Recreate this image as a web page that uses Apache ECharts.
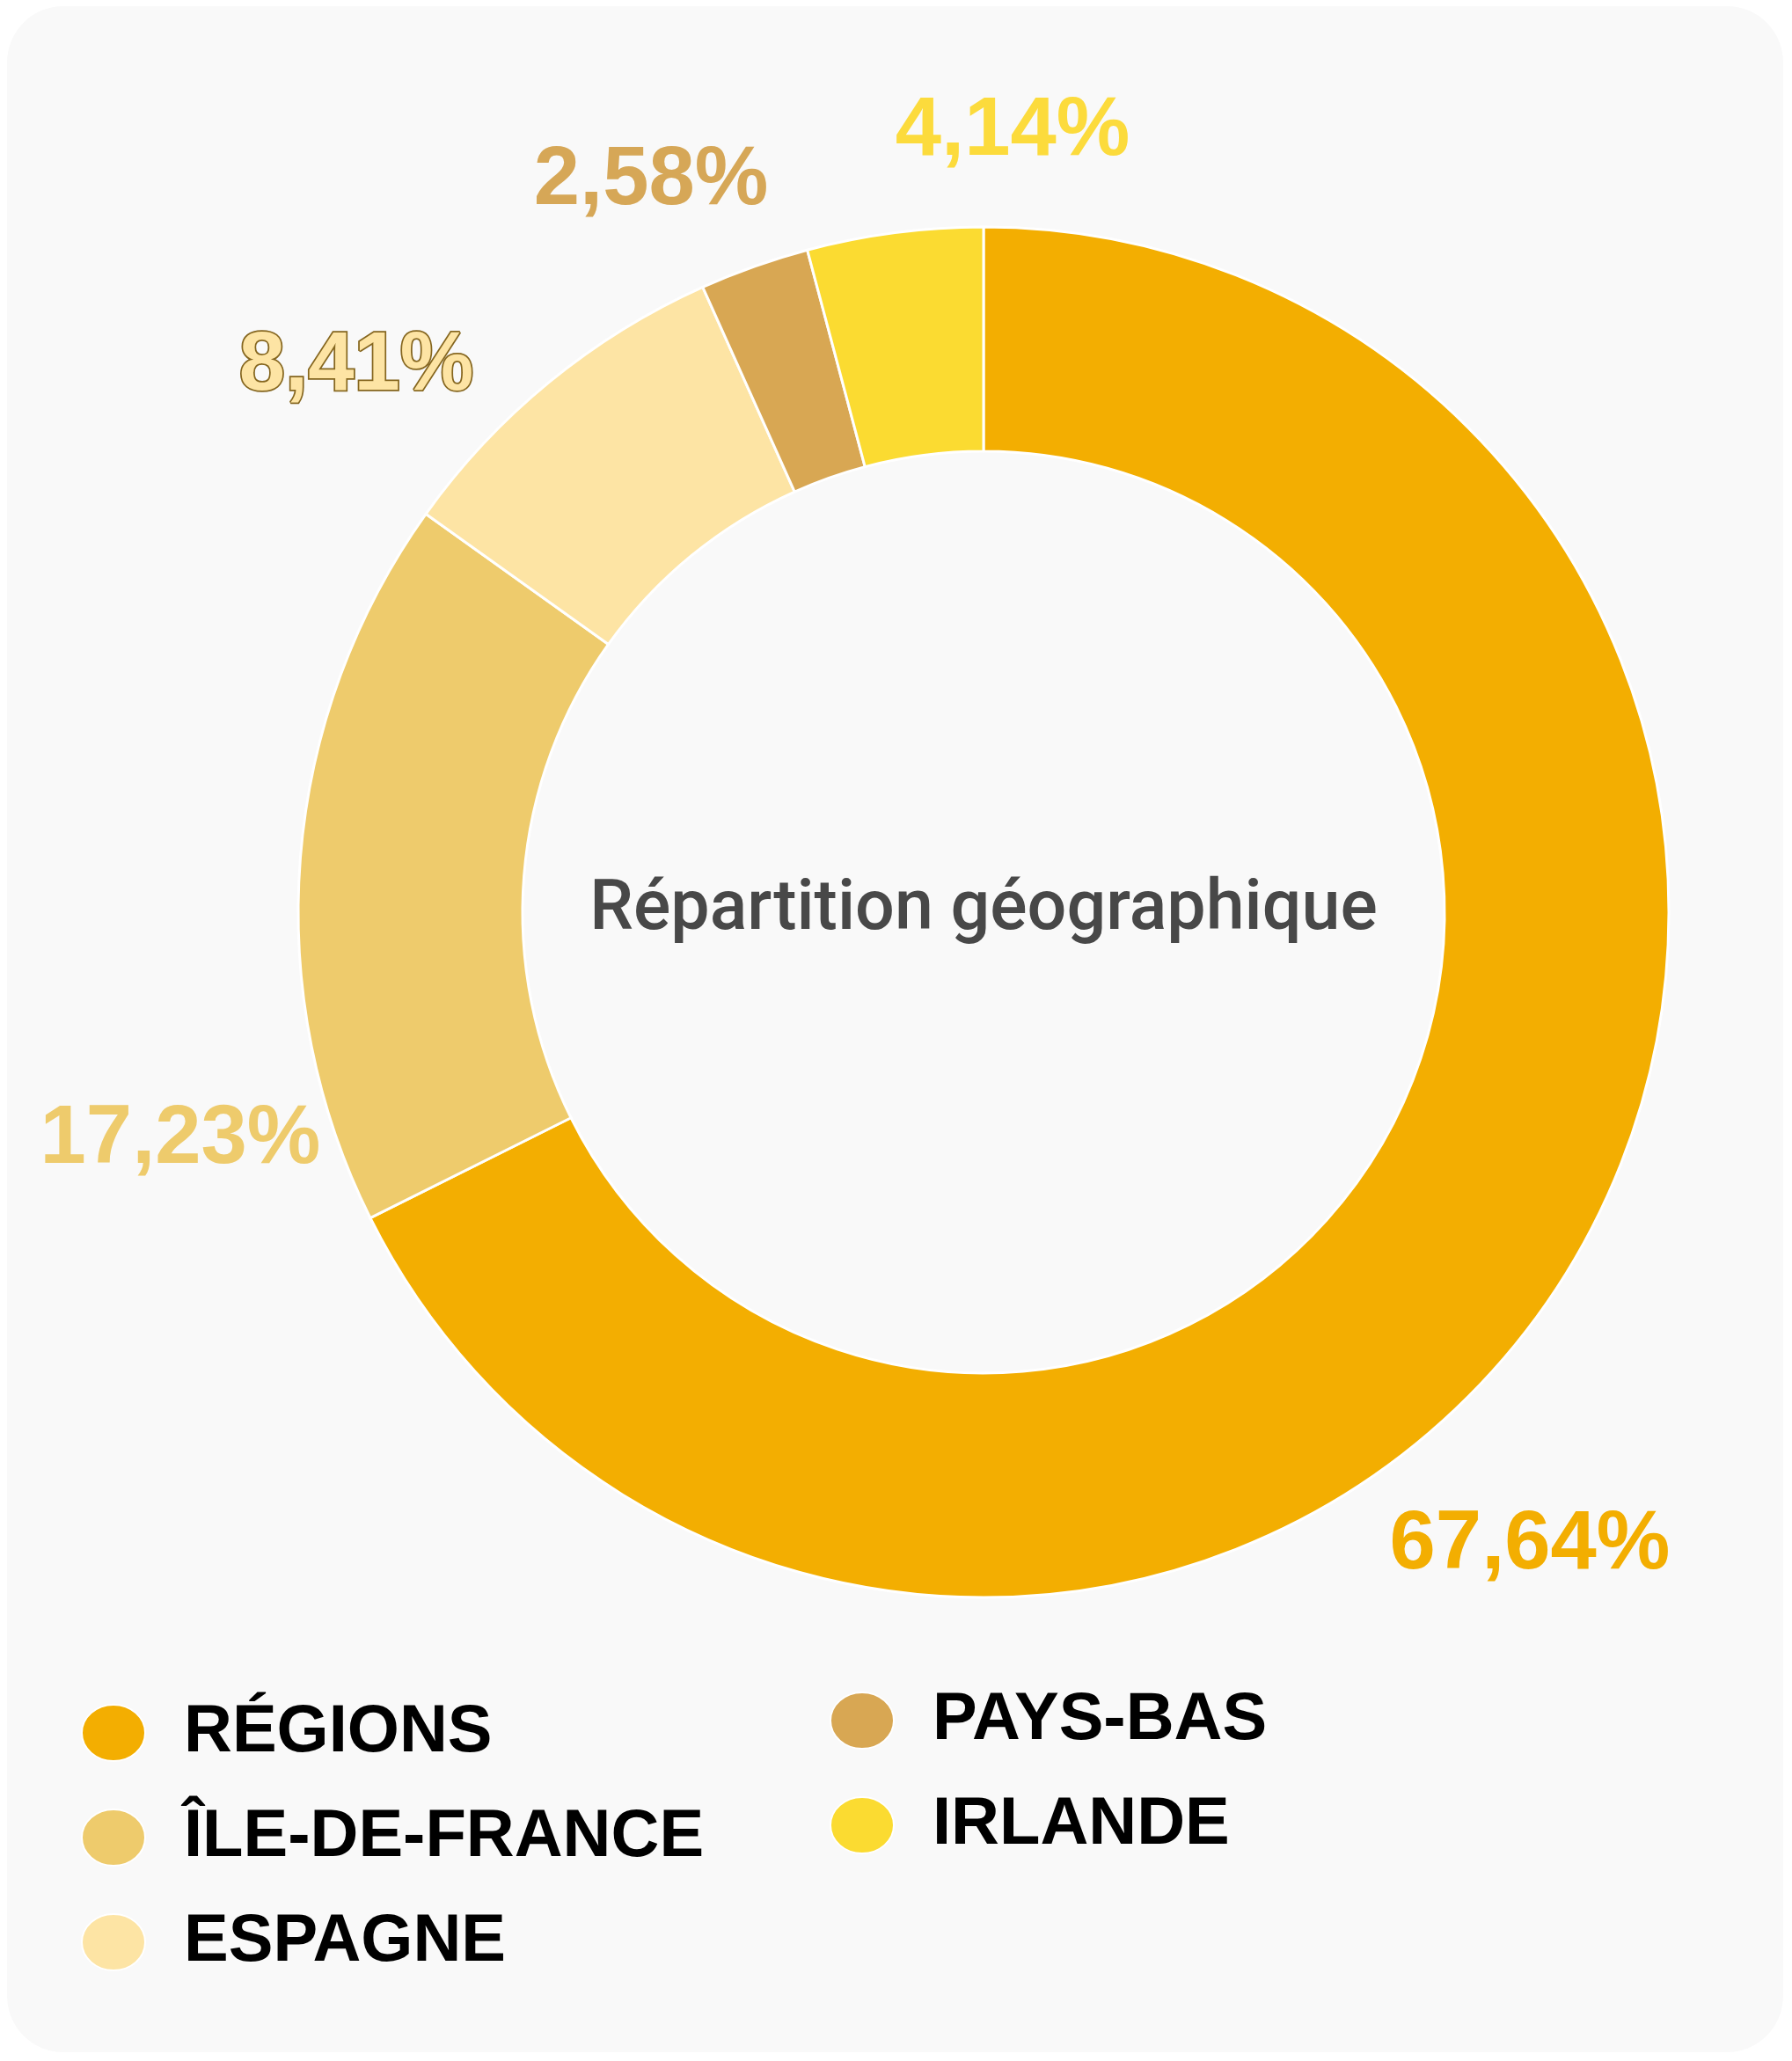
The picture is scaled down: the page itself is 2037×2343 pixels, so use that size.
<!DOCTYPE html>
<html lang="fr">
<head>
<meta charset="utf-8" />
<title>Répartition géographique</title>
<style>
	html, body { margin: 0; padding: 0; background: #ffffff; }
	#card {
		position: absolute; left: 8px; top: 7px; width: 2019px; height: 2326px;
		background: #f9f9f9; border-radius: 64px;
	}
	#chart { position: absolute; left: 0; top: 0; width: 2037px; height: 2343px; }
</style>
</head>
<body>
<div id="card"></div>
<div id="chart"></div>
<script src="https://cdn.jsdelivr.net/npm/echarts@6/dist/echarts.min.js"></script>
<script>
// données
const categories = ['RÉGIONS', 'ÎLE-DE-FRANCE', 'ESPAGNE', 'PAYS-BAS', 'IRLANDE'];
const values = [67.64, 17.23, 8.41, 2.58, 4.14];
const colors = ['#f3ae01', '#eecb6c', '#fde4a4', '#d8a753', '#fbdb31'];
const labelColors = ['#f3ae01', '#eecb6c', '#fde4a4', '#d6a757', '#fcdb3c'];
const centerTitle = 'Répartition géographique';

// position des étiquettes (centre du texte, en px)
const labelPos = [[1739, 1757], [205, 1296], [405, 417], [740, 206], [1151, 150]];

const chart = echarts.init(document.getElementById('chart'), null, { renderer: 'canvas' });

const pieData = categories.map(function (name, i) {
	const lbl = { color: labelColors[i] };
	if (name === 'ESPAGNE') {
		lbl.textBorderColor = '#85661f';
		lbl.textBorderWidth = 3.5;
	}
	return { name: name, value: values[i], itemStyle: { color: colors[i] }, label: lbl };
});

const legendText = {
	color: '#000',
	fontFamily: '"Liberation Sans", Arial, sans-serif',
	fontWeight: 'bold',
	fontSize: 76,
	lineHeight: 80,
	padding: [0, 0, 20, 39]
};
const legendIcon = 'path://M50 0A50 50 0 1 1 50 100A50 50 0 1 1 50 0Z';

const legendBase = {
	orient: 'vertical',
	padding: 0,
	itemGap: 19,
	itemWidth: 72,
	itemHeight: 64,
	icon: legendIcon,
	symbolKeepAspect: false,
	selectedMode: false,
	textStyle: legendText
};

const option = {
	animation: false,
	backgroundColor: 'transparent',
	legend: [
		Object.assign({ data: categories.slice(0, 3), left: 92, top: 1920 }, legendBase),
		Object.assign({ data: categories.slice(3), left: 943, top: 1906 }, legendBase)
	],
	graphic: [{
		type: 'text',
		x: 1118,
		y: 1036,
		style: {
			text: centerTitle,
			fill: '#484848',
			font: '500 79px Roboto, "Noto Sans", sans-serif',
			textAlign: 'center',
			textVerticalAlign: 'middle'
		}
	}],
	series: [{
		type: 'pie',
		center: [1118, 1037],
		radius: [524, 779],
		startAngle: 90,
		clockwise: true,
		avoidLabelOverlap: false,
		itemStyle: { borderColor: '#ffffff', borderWidth: 3 },
		label: {
			show: true,
			position: 'outside',
			fontFamily: '"Liberation Sans", Arial, sans-serif',
			fontWeight: 'bold',
			fontSize: 94,
			formatter: function (p) {
				return p.value.toFixed(2).replace('.', ',') + '%';
			}
		},
		labelLine: { show: false },
		labelLayout: function (params) {
			const p = labelPos[params.dataIndex];
			return { x: p[0], y: p[1], align: 'center', verticalAlign: 'middle' };
		},
		emphasis: { disabled: true },
		data: pieData
	}]
};

chart.setOption(option);
</script>
</body>
</html>
